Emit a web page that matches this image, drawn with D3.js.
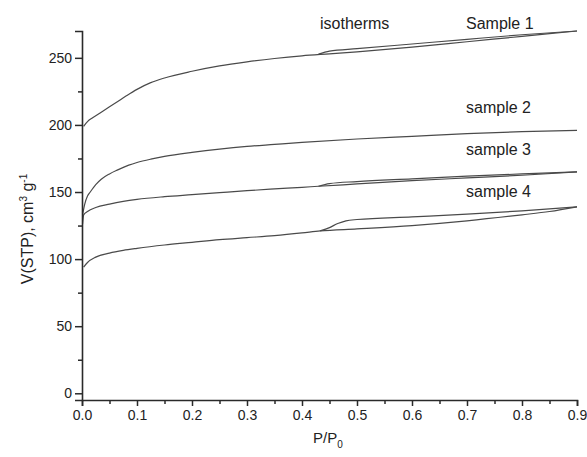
<!DOCTYPE html>
<html>
<head>
<meta charset="utf-8">
<script src="https://cdn.jsdelivr.net/npm/d3@7"></script>
<style>
  html, body { margin: 0; padding: 0; background: #fff; }
  svg { display: block; font-family: "Liberation Sans", Arial, sans-serif; }
</style>
</head>
<body>
<svg id="chart" width="587" height="457"></svg>
<script>
// ---- data (P/P0, V(STP) cm3/g) ----
const s1AdsP = [0.003, 0.01, 0.02, 0.035, 0.05, 0.065, 0.08, 0.1, 0.125, 0.15, 0.2, 0.25, 0.3, 0.35, 0.4, 0.45, 0.5, 0.6, 0.7, 0.8, 0.9];
const s1AdsV = [199, 202.5, 205.5, 209.5, 213.5, 217.5, 221.5, 226.5, 231.5, 235, 240, 244, 247, 249.5, 251.5, 253, 254.5, 258, 262, 266, 270];
const s1DesP = [0.43, 0.45, 0.5, 0.6, 0.7, 0.8, 0.9];
const s1DesV = [252.8, 255, 256.8, 260.3, 263.8, 267.2, 270];

const s2AdsP = [0.001, 0.005, 0.01, 0.015, 0.025, 0.035, 0.05, 0.065, 0.085, 0.1, 0.125, 0.15, 0.2, 0.25, 0.3, 0.35, 0.4, 0.5, 0.6, 0.7, 0.8, 0.9];
const s2AdsV = [133, 141, 147, 150, 155.5, 159.5, 163.5, 166.5, 170, 172, 174.5, 176.5, 179.5, 182, 184, 185.5, 187, 189.5, 191.5, 193.5, 195, 196];

const s3AdsP = [0.001, 0.003, 0.01, 0.025, 0.05, 0.075, 0.1, 0.15, 0.2, 0.25, 0.3, 0.35, 0.4, 0.43, 0.5, 0.6, 0.7, 0.8, 0.9];
const s3AdsV = [126, 133, 135.5, 138.5, 141, 143, 144.5, 146.5, 148, 149.5, 151, 152.3, 153.5, 154.3, 156, 158.5, 160.5, 162.5, 165];
const s3DesP = [0.43, 0.45, 0.5, 0.6, 0.7, 0.8, 0.9];
const s3DesV = [154.3, 156.3, 157.8, 159.8, 161.8, 163.5, 165];

const s4AdsP = [0.003, 0.01, 0.025, 0.05, 0.075, 0.1, 0.15, 0.2, 0.25, 0.3, 0.35, 0.4, 0.433, 0.5, 0.6, 0.7, 0.8, 0.85, 0.9];
const s4AdsV = [94, 97.5, 101.5, 104.5, 106.5, 108, 110.5, 112.5, 114.5, 116, 117.5, 119.5, 121, 122.5, 125, 128.5, 133, 135.5, 139];
const s4DesP = [0.433, 0.45, 0.465, 0.48, 0.5, 0.6, 0.7, 0.8, 0.9];
const s4DesV = [121, 123.5, 126.5, 128.5, 129.5, 131.5, 133.5, 136, 139];

const xTicks = [0.0, 0.1, 0.2, 0.3, 0.4, 0.5, 0.6, 0.7, 0.8, 0.9];
const xMinor = [0.05, 0.15, 0.25, 0.35, 0.45, 0.55, 0.65, 0.75, 0.85];
const yTicks = [0, 50, 100, 150, 200, 250];
const yMinor = [25, 75, 125, 175, 225];

const seriesNames = ["Sample 1", "sample 2", "sample 3", "sample 4"];
const titleText = "isotherms";

// ---- layout ----
const svg = d3.select("#chart");
const x = d3.scaleLinear().domain([0, 0.9]).range([82, 577]);
const y = d3.scaleLinear().domain([-5, 270]).range([400, 31]);

const lineCol = "#4a4a4a";
const axisCol = "#2a2a2a";
const textCol = "#222";

function zip(ps, vs) { return ps.map((p, i) => ({ p: p, v: vs[i] })); }
const branches = [
  zip(s1AdsP, s1AdsV), zip(s1DesP, s1DesV),
  zip(s2AdsP, s2AdsV),
  zip(s3AdsP, s3AdsV), zip(s3DesP, s3DesV),
  zip(s4AdsP, s4AdsV), zip(s4DesP, s4DesV)
];

const line = d3.line().x(d => x(d.p)).y(d => y(d.v)).curve(d3.curveMonotoneX);

svg.append("g").selectAll("path").data(branches).join("path")
  .attr("d", line)
  .attr("fill", "none")
  .attr("stroke", lineCol)
  .attr("stroke-width", 1.2);

// ---- axes ----
const xAxis = d3.axisBottom(x).tickValues(xTicks).tickFormat(d3.format(".1f")).tickSizeOuter(0).tickSize(6).tickPadding(4);
const gx = svg.append("g").attr("transform", "translate(0,400)").call(xAxis);
svg.append("g").attr("transform", "translate(0,400)")
  .call(d3.axisBottom(x).tickValues(xMinor).tickFormat("").tickSize(4).tickSizeOuter(0))
  .select(".domain").remove();

const yAxis = d3.axisLeft(y).tickValues(yTicks).tickSizeOuter(0).tickSize(7).tickPadding(3);
const gy = svg.append("g").attr("transform", "translate(82,0)").call(yAxis);
svg.append("g").attr("transform", "translate(82,0)")
  .call(d3.axisLeft(y).tickValues(yMinor).tickFormat("").tickSize(4).tickSizeOuter(0))
  .select(".domain").remove();

svg.selectAll(".domain").attr("stroke", axisCol).attr("stroke-width", 1.6);
svg.selectAll(".tick line").attr("stroke", axisCol).attr("stroke-width", 1.5);
svg.selectAll(".tick text").attr("fill", textCol).style("font-size", "14px")
  .style("font-family", "'Liberation Sans', Arial, sans-serif");

// ---- axis titles ----
const xt = svg.append("text").attr("x", 313).attr("y", 443)
  .attr("fill", textCol).style("font-size", "15px");
xt.append("tspan").text("P/P");
xt.append("tspan").attr("dy", 5).style("font-size", "10px").text("0");

const yt = svg.append("text")
  .attr("transform", "translate(33,229) rotate(-90)")
  .attr("text-anchor", "middle")
  .attr("fill", textCol).style("font-size", "16px");
yt.append("tspan").text("V(STP), cm");
yt.append("tspan").attr("dy", -6).style("font-size", "10px").text("3");
yt.append("tspan").attr("dy", 6).text(" g");
yt.append("tspan").attr("dy", -6).style("font-size", "10px").text("-1");

// ---- annotations ----
const ann = svg.append("g").attr("fill", textCol).style("font-size", "16px");
ann.append("text").attr("x", 320).attr("y", 29).text(titleText);
const labelY = [29, 113, 155, 197];
seriesNames.forEach((n, i) => {
  ann.append("text").attr("x", 466).attr("y", labelY[i]).text(n);
});
</script>
</body>
</html>
